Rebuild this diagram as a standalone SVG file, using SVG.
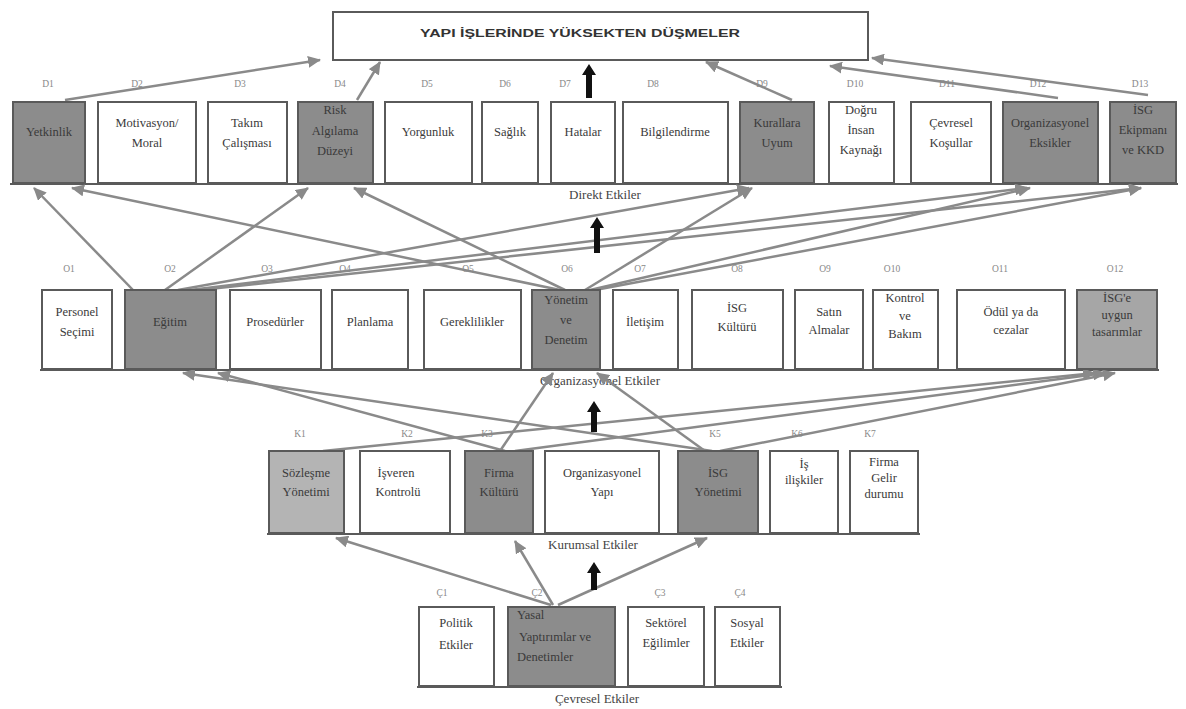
<svg xmlns="http://www.w3.org/2000/svg" width="1186" height="709" viewBox="0 0 1186 709">
<style>
.bg{fill:#fff}
.box{fill:#fff;stroke:#5a5a5a;stroke-width:2}
.dark{fill:#8c8c8c}
.mid{fill:#a6a6a6}
.light{fill:#b4b4b4}
.t{font-family:"Liberation Serif",serif;font-size:12.5px;fill:#3a3a3a;text-anchor:middle}
.tl{font-family:"Liberation Serif",serif;font-size:12.5px;fill:#3a3a3a;text-anchor:start}
.lbl{font-family:"Liberation Serif",serif;font-size:9.5px;fill:#888;text-anchor:middle}
.row{font-family:"Liberation Serif",serif;font-size:13px;fill:#444;text-anchor:middle}
.base{stroke:#5a5a5a;stroke-width:2}
.c{stroke:#8a8a8a;stroke-width:2.5;fill:none;marker-end:url(#ah)}
.blk{fill:#111}
</style>
<defs>
<marker id="ah" markerUnits="userSpaceOnUse" markerWidth="14" markerHeight="12" refX="12" refY="6" orient="auto">
<path d="M0,0 L13,6 L0,12 Z" fill="#8a8a8a"/>
</marker>
</defs>
<rect class="bg" width="1186" height="709"/>

<g id="title">
<rect class="box" x="333" y="12" width="535" height="48"/>
<text x="580" y="37" font-family="Liberation Sans,sans-serif" font-size="11" font-weight="bold" fill="#333" text-anchor="middle" textLength="320" lengthAdjust="spacingAndGlyphs">YAPI İŞLERİNDE YÜKSEKTEN DÜŞMELER</text>
</g>

<g id="baselines">
<line class="base" x1="10" y1="184" x2="1178" y2="184"/>
<line class="base" x1="40" y1="370" x2="1159" y2="370"/>
<line class="base" x1="267" y1="534" x2="920" y2="534"/>
<line class="base" x1="417" y1="687" x2="782" y2="687"/>
</g>

<g id="row-labels">
<text class="row" x="605" y="199">Direkt Etkiler</text>
<text class="row" x="600" y="385">Organizasyonel Etkiler</text>
<text class="row" x="593" y="549">Kurumsal Etkiler</text>
<text class="row" x="597" y="703">Çevresel Etkiler</text>
</g>

<g id="connectors">
<path class="c" d="M65,100 L320,60"/>
<path class="c" d="M357,100 L380,62"/>
<path class="c" d="M792,100 L706,62"/>
<path class="c" d="M1058,98 L830,66"/>
<path class="c" d="M1148,95 L872,58"/>

<path class="c" d="M133,290 L34,188"/>
<path class="c" d="M560,290 L72,188"/>
<path class="c" d="M165,290 L308,188"/>
<path class="c" d="M565,290 L354,188"/>
<path class="c" d="M178,290 L749,188"/>
<path class="c" d="M585,290 L752,188"/>
<path class="c" d="M190,290 L1027,188"/>
<path class="c" d="M200,290 L1141,188"/>
<path class="c" d="M590,290 L1030,188"/>
<path class="c" d="M595,290 L1141,188"/>

<path class="c" d="M505,451 L218,373"/>
<path class="c" d="M712,451 L183,373"/>
<path class="c" d="M500,451 L553,373"/>
<path class="c" d="M705,451 L597,373"/>
<path class="c" d="M323,451 L1095,373"/>
<path class="c" d="M515,451 L1105,373"/>
<path class="c" d="M720,451 L1115,373"/>

<path class="c" d="M551,605 L336,538"/>
<path class="c" d="M553,605 L515,541"/>
<path class="c" d="M558,605 L707,538"/>

<path class="blk" d="M586,98 L592,98 L592,75 L596,75 L589,64 L582,75 L586,75 Z"/>
<path class="blk" d="M594,253 L600,253 L600,228 L604,228 L597,217 L590,228 L594,228 Z"/>
<path class="blk" d="M591,432 L597,432 L597,412 L601,412 L594,401 L587,412 L591,412 Z"/>
<path class="blk" d="M591,590 L597,590 L597,573 L601,573 L594,562 L587,573 L591,573 Z"/>
</g>

<g id="D1"><rect class="box dark" x="13" y="102" width="72" height="81"/><text class="lbl" x="48" y="87">D1</text><text class="t" x="49" y="136">Yetkinlik</text></g>
<g id="D2"><rect class="box" x="98" y="102" width="98" height="81"/><text class="lbl" x="137" y="87">D2</text><text class="t" x="147" y="127">Motivasyon/</text><text class="t" x="147" y="147">Moral</text></g>
<g id="D3"><rect class="box" x="208" y="102" width="79" height="81"/><text class="lbl" x="240" y="87">D3</text><text class="t" x="247" y="127">Takım</text><text class="t" x="247" y="147">Çalışması</text></g>
<g id="D4"><rect class="box dark" x="298" y="102" width="75" height="81"/><text class="lbl" x="340" y="87">D4</text><text class="t" x="335" y="114">Risk</text><text class="t" x="335" y="135">Algılama</text><text class="t" x="335" y="155">Düzeyi</text></g>
<g id="D5"><rect class="box" x="385" y="102" width="87" height="81"/><text class="lbl" x="427" y="87">D5</text><text class="t" x="428" y="136">Yorgunluk</text></g>
<g id="D6"><rect class="box" x="482" y="102" width="56" height="81"/><text class="lbl" x="505" y="87">D6</text><text class="t" x="510" y="136">Sağlık</text></g>
<g id="D7"><rect class="box" x="551" y="102" width="64" height="81"/><text class="lbl" x="565" y="87">D7</text><text class="t" x="583" y="136">Hatalar</text></g>
<g id="D8"><rect class="box" x="623" y="102" width="105" height="81"/><text class="lbl" x="653" y="87">D8</text><text class="t" x="675" y="136">Bilgilendirme</text></g>
<g id="D9"><rect class="box dark" x="740" y="102" width="74" height="81"/><text class="lbl" x="762" y="87">D9</text><text class="t" x="777" y="127">Kurallara</text><text class="t" x="777" y="147">Uyum</text></g>
<g id="D10"><rect class="box" x="829" y="102" width="65" height="81"/><text class="lbl" x="855" y="87">D10</text><text class="t" x="861" y="114">Doğru</text><text class="t" x="861" y="134">İnsan</text><text class="t" x="861" y="154">Kaynağı</text></g>
<g id="D11"><rect class="box" x="911" y="102" width="80" height="81"/><text class="lbl" x="947" y="87">D11</text><text class="t" x="951" y="127">Çevresel</text><text class="t" x="951" y="147">Koşullar</text></g>
<g id="D12"><rect class="box dark" x="1003" y="102" width="95" height="81"/><text class="lbl" x="1038" y="87">D12</text><text class="t" x="1050" y="127">Organizasyonel</text><text class="t" x="1050" y="147">Eksikler</text></g>
<g id="D13"><rect class="box dark" x="1110" y="102" width="66" height="81"/><text class="lbl" x="1140" y="87">D13</text><text class="t" x="1143" y="114">İSG</text><text class="t" x="1143" y="134">Ekipmanı</text><text class="t" x="1143" y="154">ve KKD</text></g>

<g id="O1"><rect class="box" x="42" y="290" width="70" height="79"/><text class="lbl" x="69" y="272">O1</text><text class="t" x="77" y="316">Personel</text><text class="t" x="77" y="336">Seçimi</text></g>
<g id="O2"><rect class="box dark" x="125" y="290" width="91" height="79"/><text class="lbl" x="170" y="272">O2</text><text class="t" x="170" y="326">Eğitim</text></g>
<g id="O3"><rect class="box" x="230" y="290" width="91" height="79"/><text class="lbl" x="267" y="272">O3</text><text class="t" x="275" y="326">Prosedürler</text></g>
<g id="O4"><rect class="box" x="332" y="290" width="76" height="79"/><text class="lbl" x="345" y="272">O4</text><text class="t" x="370" y="326">Planlama</text></g>
<g id="O5"><rect class="box" x="424" y="290" width="97" height="79"/><text class="lbl" x="468" y="272">O5</text><text class="t" x="472" y="326">Gereklilikler</text></g>
<g id="O6"><rect class="box dark" x="532" y="290" width="68" height="79"/><text class="lbl" x="567" y="272">O6</text><text class="t" x="566" y="304">Yönetim</text><text class="t" x="566" y="324">ve</text><text class="t" x="566" y="344">Denetim</text></g>
<g id="O7"><rect class="box" x="613" y="290" width="65" height="79"/><text class="lbl" x="640" y="272">O7</text><text class="t" x="645" y="326">İletişim</text></g>
<g id="O8"><rect class="box" x="692" y="290" width="91" height="79"/><text class="lbl" x="737" y="272">O8</text><text class="t" x="737" y="312">İSG</text><text class="t" x="737" y="331">Kültürü</text></g>
<g id="O9"><rect class="box" x="795" y="290" width="68" height="79"/><text class="lbl" x="825" y="272">O9</text><text class="t" x="829" y="316">Satın</text><text class="t" x="829" y="334">Almalar</text></g>
<g id="O10"><rect class="box" x="873" y="290" width="65" height="79"/><text class="lbl" x="892" y="272">O10</text><text class="t" x="905" y="302">Kontrol</text><text class="t" x="905" y="320">ve</text><text class="t" x="905" y="338">Bakım</text></g>
<g id="O11"><rect class="box" x="957" y="290" width="108" height="79"/><text class="lbl" x="1000" y="272">O11</text><text class="t" x="1011" y="316">Ödül ya da</text><text class="t" x="1011" y="334">cezalar</text></g>
<g id="O12"><rect class="box mid" x="1077" y="290" width="80" height="79"/><text class="lbl" x="1115" y="272">O12</text><text class="t" x="1117" y="302">İSG'e</text><text class="t" x="1117" y="319">uygun</text><text class="t" x="1117" y="336">tasarımlar</text></g>

<g id="K1"><rect class="box light" x="269" y="451" width="75" height="82"/><text class="lbl" x="300" y="437">K1</text><text class="t" x="306" y="477">Sözleşme</text><text class="t" x="306" y="496">Yönetimi</text></g>
<g id="K2"><rect class="box" x="360" y="451" width="90" height="82"/><text class="lbl" x="407" y="437">K2</text><text class="t" x="396" y="477">İşveren</text><text class="t" x="398" y="496">Kontrolü</text></g>
<g id="K3"><rect class="box dark" x="465" y="451" width="68" height="82"/><text class="lbl" x="487" y="437">K3</text><text class="t" x="499" y="477">Firma</text><text class="t" x="499" y="496">Kültürü</text></g>
<g id="K4"><rect class="box" x="545" y="451" width="114" height="82"/><text class="t" x="602" y="477">Organizasyonel</text><text class="t" x="602" y="496">Yapı</text></g>
<g id="K5"><rect class="box dark" x="678" y="451" width="80" height="82"/><text class="lbl" x="715" y="437">K5</text><text class="t" x="718" y="477">İSG</text><text class="t" x="718" y="496">Yönetimi</text></g>
<g id="K6"><rect class="box" x="770" y="451" width="68" height="82"/><text class="lbl" x="797" y="437">K6</text><text class="t" x="804" y="468">İş</text><text class="t" x="804" y="484">ilişkiler</text></g>
<g id="K7"><rect class="box" x="850" y="451" width="68" height="82"/><text class="lbl" x="870" y="437">K7</text><text class="t" x="884" y="466">Firma</text><text class="t" x="884" y="482">Gelir</text><text class="t" x="884" y="498">durumu</text></g>

<g id="C1"><rect class="box" x="419" y="607" width="75" height="79"/><text class="lbl" x="442" y="596">Ç1</text><text class="t" x="456" y="627">Politik</text><text class="t" x="456" y="649">Etkiler</text></g>
<g id="C2"><rect class="box dark" x="508" y="607" width="107" height="79"/><text class="lbl" x="537" y="596">Ç2</text><text class="tl" x="517" y="619">Yasal</text><text class="tl" x="519" y="641">Yaptırımlar ve</text><text class="tl" x="517" y="661">Denetimler</text></g>
<g id="C3"><rect class="box" x="628" y="607" width="76" height="79"/><text class="lbl" x="660" y="596">Ç3</text><text class="t" x="666" y="627">Sektörel</text><text class="t" x="666" y="647">Eğilimler</text></g>
<g id="C4"><rect class="box" x="715" y="607" width="65" height="79"/><text class="lbl" x="740" y="596">Ç4</text><text class="t" x="747" y="627">Sosyal</text><text class="t" x="747" y="647">Etkiler</text></g>
</svg>
